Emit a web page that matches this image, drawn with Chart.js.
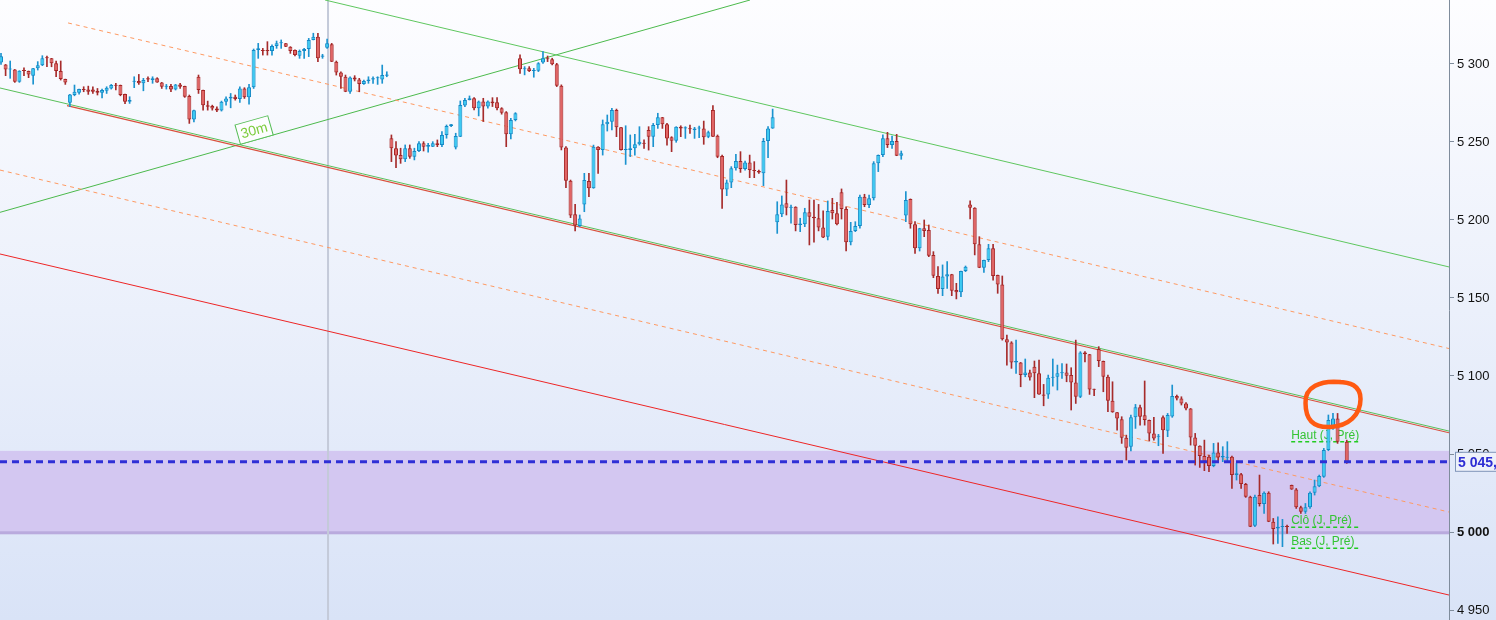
<!DOCTYPE html>
<html>
<head>
<meta charset="utf-8">
<script src="https://cdn.jsdelivr.net/npm/chart.js@4.4.1/dist/chart.umd.min.js"></script>
<style>
  html, body { margin: 0; padding: 0; overflow: hidden; background: #fff; }
  #wrap { width: 1496px; height: 620px; }
</style>
</head>
<body>
<div id="wrap"><canvas id="chart" width="1496" height="620"></canvas></div>
<script>
// candles, left to right (one slot is empty: null)
const opens = [
  5301, 5299.7, 5296.5, 5296.5, 5288.6, 5296.1, 5295.5, 5292.5, 5297.2, 5299.1,
  5304.2, 5303.6, 5300.4, 5295.5, 5290.3, 5275.1, 5280.1, 5281.6, 5283.9, 5283.7,
  5283.7, 5282.6, 5281.6, 5282.8, 5284.3, 5286.5, 5286.5, 5280.7, 5275.8, 5288.6,
  5289.1, 5287.6, 5290.8, 5289.7, 5290.8, 5288.2, 5285.4, 5285.8, 5283.7, 5286.9,
  5285.8, 5279.4, 5264.4, 5291.8, 5283.3, 5273.6, 5273, 5271.5, 5270.2, 5275.8,
  5277.9, 5279, 5277.5, 5284.3, 5278.6, 5285, 5309, 5309, 5309, 5308.3,
  5311.5, 5313.2, 5313.2, 5311.1, 5309, 5305.3, 5308.3, 5309.6, 5315.4, 5317.5,
  5304.6, 5310.4, 5312.6, 5301.5, 5294.6, 5291.8, 5282.2, 5291.4, 5290.1, 5287.1,
  5289.1, 5290.1, 5290.8, 5290.1, 5292.5, 5252.4, 5246, 5241.7, 5238.9, 5246,
  5240.6, 5244.2, 5249.2, 5247, 5247, 5249.2, 5248.1, 5254.5, 5260.3, 5246.4,
  5253.4, 5273.3, 5276.9, 5278, 5271.6, 5275.9, 5272.7, 5275.9, 5275.4, 5271.6,
  5269, 5254.9, 5264.1, 5303.7, 5296.6, 5297.2, 5295.5, 5295.7, 5300.9, 5303.7,
  5303, 5299.8, 5286.1, 5246.4, 5225.2, 5203.6, 5196.1, 5210, 5225, 5220.3,
  5247, 5244.8, 5261.3, 5263, 5270.5, 5259.4, 5244.8, 5244.8, 5245.9, 5248.5,
  5249.5, 5257.7, 5253.4, 5260.9, 5265.8, 5261.3, 5253, 5250.8, 5259.8, 5258.7,
  5258.7, 5257.7, 5258.7, 5258.7, 5253.4, 5270.5, 5254, 5241, 5219.6, 5224.1,
  5233.1, 5237.8, 5232.7, 5236.9, 5232, 5231.4, 5229.9, 5250.6, 5258.7, 5198.5,
  5203.6, 5210.7, 5207.9, 5208.5, 5196.8, 5197.2, 5204.9, 5202.1, 5201.1, 5195.1,
  5189.3, 5206.4, 5204.3, 5217.7, 5207.1, 5185.7, 5193, 5196.1, 5214.9, 5209.6,
  5213.9, 5236.3, 5241.7, 5252.4, 5248.1, 5250.6, 5241.2, 5202.8, 5213.5, 5197.2,
  5181.8, 5194.7, 5193.6, 5177.5, 5164.1, 5155.8, 5163.7, 5165.2, 5155.1, 5153.6,
  5167.3, 5210, 5207.9, 5184.4, 5169.4, 5174.3, 5181.8, 5164.7, 5158.7, 5123.5,
  5121.5, 5108.7, 5108.7, 5100.6, 5102.3, 5105.9, 5101.7, 5088.2, 5088.2, 5098.9,
  5099.5, 5101.7, 5102.3, 5100.6, 5095.9, 5086.7, 5115.1, 5113.9, 5091.6, 5117.3,
  5109.6, 5099.5, 5084.1, 5076.7, 5072.2, 5060.4, 5054.7, 5073.5, 5079.9, 5074.9,
  5071.8, 5063.2, 5061.1, 5073.5, 5064.9, 5074, 5087.1, 5085.6, 5082.4, 5079.2,
  5060.6, 5055.3, 5048.7, 5048.2, 5042.3, 5051, 5047.8, 5047.6, 5048.3, 5036.5,
  5037.1, 5030.7, 5022.6, 5004, 5023.7, 5017.9, 5025.2, 5006.6, 5002.3, 5003.2,
  5003.8, 5030.1, 5027.3, 5015.8, 5013, 5015.8, 5025.2, 5029.4, 5035.4, 5052.5,
  5066.4, 5072.8, null, 5057.9
];
const highs = [
  5306.8, 5299.7, 5301.9, 5296.5, 5295.7, 5297.6, 5295.5, 5297.2, 5301.5, 5305.3,
  5305.1, 5303.6, 5301.9, 5301.9, 5290.3, 5280.5, 5286.5, 5283.9, 5285.4, 5285.8,
  5285.4, 5284.3, 5283.9, 5285.4, 5286.9, 5287.6, 5286.5, 5280.7, 5279, 5291.8,
  5293.3, 5290.8, 5291.8, 5291.8, 5291.2, 5288.2, 5286.9, 5286.9, 5286.9, 5287.6,
  5285.8, 5280.1, 5270.4, 5292.9, 5283.3, 5276.2, 5273.6, 5272.6, 5276.2, 5279,
  5281.1, 5280.1, 5285.4, 5284.8, 5286.9, 5309.6, 5313.2, 5310, 5314.3, 5312.2,
  5314.7, 5315.4, 5313.2, 5311.1, 5309, 5309, 5310, 5316.4, 5319.7, 5319.7,
  5306.2, 5316, 5313.2, 5301.9, 5295, 5292.9, 5291.8, 5292.5, 5290.8, 5289.7,
  5291.8, 5291.8, 5291.8, 5299.3, 5295, 5254.5, 5250.2, 5246, 5248.1, 5248.1,
  5246, 5250.2, 5250.2, 5249.2, 5250.2, 5251.3, 5256.6, 5260.9, 5261.3, 5255.6,
  5276.3, 5278, 5279.5, 5278.4, 5276.3, 5278, 5276.3, 5278.4, 5278.4, 5272,
  5269.5, 5265.2, 5268.8, 5305.8, 5298.3, 5298.3, 5297.2, 5300.9, 5307.9, 5305.1,
  5303.7, 5300.4, 5286.6, 5247, 5225.6, 5210.1, 5203.2, 5229.9, 5229.9, 5248,
  5247, 5264.1, 5267.3, 5271.6, 5271.1, 5259.4, 5260.4, 5254.5, 5254.9, 5259.8,
  5251.3, 5259.8, 5261.9, 5268.4, 5265.8, 5261.9, 5253.4, 5259.8, 5260.4, 5259.8,
  5260.9, 5259.4, 5260.2, 5263.4, 5257, 5273.3, 5254.5, 5241.6, 5225.6, 5234.2,
  5242.1, 5243.8, 5237.8, 5241.6, 5237.4, 5232, 5252.3, 5259.8, 5271.1, 5211.7,
  5215.4, 5225.6, 5209.6, 5208.5, 5201.1, 5207.5, 5212.8, 5212.8, 5210, 5205.8,
  5212.2, 5213.9, 5211.3, 5219.9, 5208.5, 5198.5, 5198.9, 5216, 5216.5, 5216,
  5237.4, 5241.7, 5254.5, 5256.2, 5253.8, 5254.9, 5244.2, 5218.2, 5213.5, 5198.9,
  5194.7, 5200, 5196.8, 5179.7, 5170.1, 5171.2, 5173.3, 5165.2, 5159.4, 5167.3,
  5170.5, 5212.2, 5207.9, 5189.3, 5174.3, 5184.4, 5184.4, 5164.7, 5164.1, 5126.2,
  5122, 5123, 5108.7, 5110.9, 5103.8, 5109.6, 5110.2, 5094.6, 5100.6, 5110.9,
  5107, 5108, 5107.7, 5105.3, 5123, 5115.6, 5115.6, 5113.9, 5091.6, 5118.8,
  5109.6, 5100.6, 5096.3, 5076.7, 5073.9, 5062.1, 5075, 5081.8, 5081.4, 5096.8,
  5071.8, 5073.5, 5062.6, 5074.5, 5076, 5094.2, 5087.8, 5086.7, 5082.9, 5079.2,
  5063.2, 5055.3, 5058.9, 5049.3, 5056.8, 5057.2, 5054.7, 5057.9, 5048.7, 5044,
  5037.6, 5031.2, 5023, 5023.7, 5036.5, 5025.8, 5025.8, 5008.7, 5009.8, 5008.1,
  5004.4, 5030.1, 5027.9, 5016.6, 5018.3, 5025.8, 5033.3, 5036.5, 5053.6, 5075,
  5076, 5076, null, 5058.9
];
const lows = [
  5299.7, 5292.5, 5290.8, 5288.2, 5288.2, 5292.5, 5291.2, 5287.1, 5296.1, 5298.9,
  5298.2, 5298.2, 5291.8, 5289.7, 5286.9, 5272.6, 5279.6, 5280.7, 5282.2, 5280.5,
  5281.1, 5280.1, 5278.3, 5281.1, 5283.9, 5283.3, 5279.6, 5274.5, 5274.7, 5284.8,
  5286.9, 5282.8, 5288.6, 5287.6, 5288.2, 5284.3, 5283.9, 5282.2, 5283.3, 5284.3,
  5278.6, 5261.9, 5262.9, 5281.1, 5270.4, 5270.4, 5270.4, 5269.4, 5269.8, 5273.6,
  5271.9, 5276.8, 5275.4, 5277.9, 5274.3, 5284.3, 5303.6, 5305.7, 5305.7, 5305.7,
  5310, 5310, 5311.1, 5306.8, 5305.1, 5303.6, 5303.6, 5304.7, 5315.4, 5301.5,
  5303.6, 5310, 5301.5, 5292.9, 5284.3, 5282.2, 5281.1, 5289.1, 5282.2, 5286.9,
  5287.6, 5287.6, 5286.9, 5287.6, 5291.8, 5237.4, 5233.6, 5236.3, 5237.4, 5239.5,
  5238.5, 5243.8, 5244.2, 5243.4, 5247, 5247, 5247, 5252.4, 5259.8, 5245.5,
  5253.4, 5272.7, 5276.9, 5270.5, 5266.7, 5263.1, 5271.6, 5272.7, 5270.5, 5267.8,
  5247, 5251.9, 5263.5, 5294, 5293, 5295.1, 5291.5, 5295.1, 5300.4, 5301.5,
  5299.4, 5285.5, 5244.9, 5220.7, 5201.5, 5193, 5195.7, 5205.3, 5215, 5220.3,
  5229.9, 5241.6, 5257, 5257.7, 5253.4, 5244.8, 5235.6, 5240.6, 5241.6, 5248,
  5245.9, 5244.8, 5247, 5258.7, 5258.7, 5248, 5243.8, 5249.8, 5253.4, 5252.3,
  5255.5, 5252.3, 5252.7, 5248.5, 5252.7, 5253.4, 5239.9, 5207.4, 5215.6, 5220.7,
  5232, 5230.5, 5232, 5227.1, 5227.1, 5229.9, 5222, 5239.9, 5258.7, 5191.4,
  5202.1, 5203.2, 5197.9, 5193, 5192.5, 5195.7, 5184, 5185.7, 5193, 5188.7,
  5187.2, 5200.6, 5196.8, 5200.6, 5180.1, 5184, 5192.5, 5194.7, 5208.5, 5207.9,
  5212.8, 5231, 5240.6, 5246.4, 5245.9, 5241.2, 5238.9, 5198.9, 5194.7, 5178.6,
  5180.1, 5189.3, 5176.5, 5163, 5153, 5151.5, 5156.2, 5151.5, 5149.4, 5150.8,
  5166.9, 5200.6, 5177.6, 5169.4, 5166.4, 5173.3, 5161.5, 5153, 5123, 5107,
  5104.9, 5101.7, 5093.1, 5099.5, 5097.4, 5086.1, 5088.2, 5080.9, 5085.6, 5093.5,
  5091, 5098.5, 5096.3, 5078.2, 5082.4, 5086.1, 5109.1, 5088.2, 5087.4, 5106,
  5089.9, 5077.1, 5076.7, 5065.3, 5056.8, 5046.1, 5051.9, 5066.4, 5068.5, 5068.5,
  5058.3, 5058.9, 5055.3, 5050.4, 5061.1, 5073.5, 5084.6, 5081.4, 5078.2, 5055.7,
  5042.9, 5041.4, 5039.3, 5038.6, 5041.8, 5045.1, 5045.1, 5045.1, 5027.9, 5033.3,
  5027.9, 5022.2, 5003.4, 5003.4, 5016.6, 5011.9, 5006.6, 4992.3, 4992.7, 4990.6,
  4999.1, 5027.3, 5015.1, 5011.9, 5011.9, 5015.1, 5023.7, 5029, 5035, 5052.1,
  5065.8, 5056.8, null, 5044
];
const closes = [
  5305, 5296.5, 5297, 5288.6, 5295.7, 5295.5, 5293.3, 5297.2, 5299.1, 5303.6,
  5303.6, 5300.4, 5295.5, 5290.3, 5288.2, 5280.5, 5282.2, 5283.9, 5283.3, 5282.2,
  5282.2, 5281.6, 5283.3, 5284.8, 5286.5, 5286, 5280.1, 5275.8, 5276.9, 5288.9,
  5287.6, 5289.7, 5290.1, 5290.8, 5288.2, 5285.4, 5285.8, 5283.7, 5286.9, 5285.4,
  5279, 5264.4, 5270.4, 5283.3, 5273.6, 5272.6, 5271.5, 5270.2, 5275.8, 5277.9,
  5279, 5277.5, 5284.3, 5278.6, 5285, 5309, 5310, 5308.3, 5308.3, 5311.5,
  5313.2, 5313.9, 5311.1, 5308.3, 5305.7, 5308.3, 5309.6, 5315.4, 5317.5, 5303.6,
  5305.4, 5313.2, 5301.5, 5294.6, 5291.8, 5282.2, 5291.4, 5290.1, 5287.1, 5289.1,
  5290.1, 5290.8, 5291.1, 5293, 5293.3, 5246, 5241.3, 5238.9, 5246, 5240.6,
  5244.2, 5249.2, 5247, 5248.1, 5249.2, 5248.1, 5254.5, 5260.3, 5261.3, 5253.9,
  5273.7, 5276.9, 5278, 5271.6, 5275.9, 5272.7, 5275.9, 5274.8, 5271.6, 5268.8,
  5254.9, 5264.1, 5268.4, 5296.6, 5297.2, 5295.5, 5296.2, 5300.4, 5303.7, 5303,
  5299.8, 5286.1, 5246.4, 5225.2, 5202.8, 5196.4, 5201, 5225.6, 5220.3, 5247,
  5244.8, 5261.3, 5263, 5270.5, 5259.4, 5244.8, 5245.3, 5245.9, 5248.5, 5250.2,
  5248.9, 5253.4, 5260.9, 5265.8, 5261.3, 5252.3, 5250.8, 5259.8, 5258.7, 5259.4,
  5258.1, 5258.7, 5259.2, 5253, 5256.2, 5253.4, 5240.6, 5219.6, 5224.1, 5233.1,
  5237.8, 5232.7, 5236.9, 5232, 5231.4, 5230.5, 5250.6, 5258.7, 5265.8, 5203.6,
  5210, 5207.9, 5208.5, 5196.8, 5197.7, 5204.9, 5202.1, 5201.1, 5195.1, 5188.7,
  5205.8, 5204.3, 5197.2, 5207.1, 5185.7, 5193, 5196.1, 5214.9, 5209.6, 5213.9,
  5236.3, 5241.7, 5252.4, 5248.1, 5250.6, 5241.2, 5242.7, 5212.8, 5197.2, 5181.8,
  5194.7, 5193, 5177.1, 5164.3, 5155.8, 5163.7, 5165.2, 5154.7, 5153.6, 5167.3,
  5170.1, 5207.9, 5184.4, 5169.4, 5174.3, 5181.8, 5164.1, 5158.7, 5123.5, 5121.5,
  5108.7, 5109.6, 5100.6, 5102.3, 5099.1, 5101.7, 5088.2, 5087.4, 5098.9, 5099.5,
  5101.7, 5102.3, 5100.2, 5095.9, 5086.7, 5115.1, 5113.9, 5091.4, 5091.2, 5109.6,
  5099.5, 5084.1, 5076.7, 5072.8, 5060.4, 5054, 5073.5, 5079.9, 5073.9, 5071.8,
  5063.2, 5060, 5061.7, 5065.3, 5075, 5087.1, 5085.6, 5082.4, 5079.2, 5060.6,
  5055.3, 5048.7, 5045.1, 5042.3, 5051, 5047.8, 5048.7, 5048.3, 5036.5, 5037.6,
  5030.7, 5022.6, 5003.4, 5022.6, 5017.9, 5025.2, 5006.6, 5001.9, 5003.4, 5003.8,
  5003.2, 5027.3, 5015.8, 5013, 5015.8, 5025.2, 5029.4, 5035.9, 5052.5, 5071.8,
  5072.8, 5057.9, null, 5044.4
];

// price axis
const yTicks = [4950, 5000, 5050, 5100, 5150, 5200, 5250, 5300];
const yMin = 4943.6, yMax = 5341;
const xMin = -0.22, xMax = 315.26;

// drawn lines: [candle index, price] end points
const channelTop = [[70.54, 5341], [315.26, 5169.9]];
const channelMid = [[-0.22, 5284.6], [315.26, 5064.7]];
const channelMidRed = [[14.37, 5273.3], [315.26, 5063.6]];
const channelLow = [[-0.22, 5178.2], [315.26, 4959.6]];
const dashUpper = [[14.59, 5326.3], [315.26, 5117.6]];
const dashLower = [[-0.22, 5232.0], [315.26, 5012.8]];
const riseLine = [[-0.22, 5204.9], [163.07, 5341]];
const riseLabelAt = 55.7;
const sessionBreak = 71.2;

const lastPrice = 5045;
const zoneTop = 5052, zoneBottom = 4999.5;

const prevDayLabels = ['Haut (J, Pré)', 'Clô (J, Pré)', 'Bas (J, Pré)'];
const prevDayLevels = [5057.9, 5003, 4989.6];
const prevDayFrom = 280.9, prevDayTo = 295.9;

const circleAt = [289.9, 5081.4];

const FONT = '"Liberation Sans", Arial, sans-serif';

const slots = opens.map((_, i) => i).filter(i => opens[i] !== null);
const up = i => closes[i] >= opens[i];

function fmt(v) {
  return String(v).replace(/\B(?=(\d{3})+(?!\d))/g, ' ');
}

function seg(pts, color, width, dash, order) {
  return {
    type: 'line',
    data: pts.map(p => ({ x: p[0], y: p[1] })),
    borderColor: color,
    borderWidth: width,
    borderDash: dash || [],
    pointRadius: 0,
    fill: false,
    tension: 0,
    order: order || 5
  };
}

var backdrop = {
  id: 'backdrop',
  beforeDraw(chart) {
    var ctx = chart.ctx;
    var g = ctx.createLinearGradient(0, 0, 0, chart.height);
    g.addColorStop(0, '#fdfdff');
    g.addColorStop(1, '#d9e3f7');
    ctx.save();
    ctx.fillStyle = g;
    ctx.fillRect(0, 0, chart.width, chart.height);
    ctx.restore();
  },
  beforeDatasetsDraw(chart) {
    var ctx = chart.ctx, a = chart.chartArea;
    var xs = chart.scales.x, ys = chart.scales.y;
    ctx.save();
    // purple zone
    var t = ys.getPixelForValue(zoneTop), b = ys.getPixelForValue(zoneBottom);
    ctx.fillStyle = '#d3c7f1';
    ctx.fillRect(a.left, t, a.right - a.left, b - t);
    ctx.fillStyle = '#b9aadd';
    ctx.fillRect(a.left, b - 1.5, a.right - a.left, 3);

    // session separator
    var sx = xs.getPixelForValue(sessionBreak);
    ctx.strokeStyle = '#c4cad9';
    ctx.lineWidth = 2;
    ctx.beginPath();
    ctx.moveTo(sx, a.top);
    ctx.lineTo(sx, a.bottom);
    ctx.stroke();

    // previous day labels
    var lx = xs.getPixelForValue(prevDayFrom), rx = xs.getPixelForValue(prevDayTo);
    ctx.font = '12px ' + FONT;
    ctx.textAlign = 'left';
    ctx.textBaseline = 'alphabetic';
    prevDayLevels.forEach(function (lv, k) {
      var py = ys.getPixelForValue(lv);
      ctx.fillStyle = '#35c435';
      ctx.fillText(prevDayLabels[k], lx, py - 3);
      ctx.strokeStyle = '#22cc22';
      ctx.lineWidth = 1.5;
      ctx.setLineDash([4, 3]);
      ctx.beginPath();
      ctx.moveTo(lx, py);
      ctx.lineTo(rx, py);
      ctx.stroke();
      ctx.setLineDash([]);
    });
    ctx.restore();
  },
  afterDatasetsDraw(chart) {
    var ctx = chart.ctx;
    var xs = chart.scales.x, ys = chart.scales.y;
    ctx.save();
    // "30m" tag sitting on the rising line
    var x0 = xs.getPixelForValue(riseLine[0][0]), y0 = ys.getPixelForValue(riseLine[0][1]);
    var x1 = xs.getPixelForValue(riseLine[1][0]), y1 = ys.getPixelForValue(riseLine[1][1]);
    var ang = Math.atan2(y1 - y0, x1 - x0);
    var f = (riseLabelAt - riseLine[0][0]) / (riseLine[1][0] - riseLine[0][0]);
    var px = x0 + (x1 - x0) * f, py = y0 + (y1 - y0) * f;
    ctx.translate(px, py);
    ctx.rotate(ang);
    ctx.translate(0, -10);
    ctx.fillStyle = 'rgba(255,255,255,0.75)';
    ctx.fillRect(-17, -10, 34, 20);
    ctx.strokeStyle = '#55bd55';
    ctx.lineWidth = 1;
    ctx.strokeRect(-17, -10, 34, 20);
    ctx.fillStyle = '#7ccc3c';
    ctx.font = '14px ' + FONT;
    ctx.textAlign = 'center';
    ctx.textBaseline = 'middle';
    ctx.fillText('30m', 0, 1);
    ctx.restore();

    // hand drawn circle
    ctx.save();
    var cx = xs.getPixelForValue(circleAt[0]), cy = ys.getPixelForValue(circleAt[1]);
    ctx.strokeStyle = '#ff5a12';
    ctx.lineWidth = 4.5;
    ctx.lineCap = 'round';
    ctx.beginPath();
    ctx.moveTo(cx + 8, cy - 23);
    ctx.bezierCurveTo(cx - 12, cy - 25, cx - 28, cy - 18, cx - 27, cy - 2);
    ctx.bezierCurveTo(cx - 27, cy + 14, cx - 20, cy + 23, cx - 2, cy + 22);
    ctx.bezierCurveTo(cx + 16, cy + 21, cx + 28, cy + 10, cx + 28, cy - 6);
    ctx.bezierCurveTo(cx + 28, cy - 19, cx + 18, cy - 24, cx + 2, cy - 23);
    ctx.stroke();
    ctx.restore();
  },
  afterDraw(chart) {
    var ctx = chart.ctx, a = chart.chartArea, ys = chart.scales.y;
    var py = ys.getPixelForValue(lastPrice);
    ctx.save();
    ctx.fillStyle = '#edf1fa';
    ctx.strokeStyle = '#7f95b9';
    ctx.lineWidth = 1;
    ctx.fillRect(a.right + 6.5, py - 9.5, 60, 19);
    ctx.strokeRect(a.right + 6.5, py - 9.5, 60, 19);
    ctx.fillStyle = '#2d2dd4';
    ctx.font = 'bold 14px ' + FONT;
    ctx.textAlign = 'left';
    ctx.textBaseline = 'middle';
    ctx.fillText(fmt(lastPrice) + ',', a.right + 9, py + 1);
    ctx.restore();
  }
};

var ctx = document.getElementById('chart').getContext('2d');
var chart = new Chart(ctx, {
  type: 'bar',
  data: {
    datasets: [
      seg(channelTop, '#5fc75f', 1),
      seg(channelMidRed, '#d9503c', 1.2),
      seg(channelMid, '#5ac05a', 1),
      seg(channelLow, '#ee2626', 1),
      seg(dashUpper, '#ff9a62', 1, [4, 4]),
      seg(dashLower, '#ff9a62', 1, [4, 4]),
      seg(riseLine, '#4cba4c', 1),
      {
        type: 'bar',
        label: 'wicks',
        data: slots.map(i => ({ x: i, y: [lows[i], highs[i]] })),
        backgroundColor: slots.map(i => up(i) ? '#1b93cf' : '#a62b2b'),
        borderWidth: 0,
        barThickness: 1,
        grouped: false,
        order: 3
      },
      {
        type: 'bar',
        label: 'bodies',
        data: slots.map(i => ({ x: i, y: [opens[i], closes[i]] })),
        backgroundColor: slots.map(i => up(i) ? '#3ccaf2' : '#e26565'),
        borderColor: slots.map(i => up(i) ? '#1489c6' : '#a52626'),
        borderWidth: 1,
        borderSkipped: false,
        inflateAmount: 0,
        barThickness: 4,
        minBarLength: 1,
        grouped: false,
        order: 2
      },
      seg([[xMin, lastPrice], [xMax, lastPrice]], '#2f2fd6', 3, [7, 5], 1)
    ]
  },
  options: {
    responsive: false,
    animation: false,
    devicePixelRatio: 1,
    layout: { padding: 0 },
    plugins: {
      legend: { display: false },
      tooltip: { enabled: false }
    },
    scales: {
      x: {
        type: 'linear',
        min: xMin,
        max: xMax,
        offset: false,
        display: false,
        grid: { display: false }
      },
      y: {
        type: 'linear',
        position: 'right',
        min: yMin,
        max: yMax,
        afterBuildTicks: function (s) { s.ticks = yTicks.map(v => ({ value: v })); },
        afterFit: function (s) {
          s.width = 47;
          s.paddingTop = 0;
          s.paddingBottom = 0;
        },
        grid: { drawOnChartArea: false, tickLength: 5, color: '#7f8c9c' },
        border: { display: true, color: '#7f8c9c', width: 1 },
        ticks: {
          padding: 3,
          color: '#111111',
          font: function (c) {
            return { family: FONT, size: 13, weight: (c.tick && c.tick.value === 5000) ? 'bold' : 'normal' };
          },
          callback: function (v) { return fmt(v); }
        }
      }
    }
  },
  plugins: [backdrop]
});
</script>
</body>
</html>
